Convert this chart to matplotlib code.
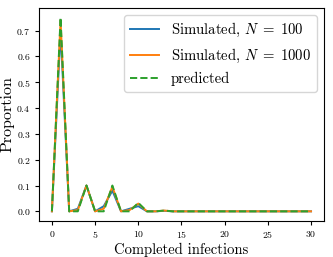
import numpy as np
import matplotlib
matplotlib.use('Agg')
from matplotlib import pyplot as plt

plt.rcParams['font.family'] = 'serif'
plt.rcParams['font.serif'] = ['cmr10']
plt.rcParams['mathtext.fontset'] = 'cm'
plt.rcParams['axes.formatter.use_mathtext'] = True

infections = np.arange(31)
sim_100 = [0.0, 0.70, 0.0, 0.01, 0.10, 0.0, 0.02, 0.08, 0.0, 0.01, 0.02, 0.0, 0.0, 0.002] + [0.0] * 17
sim_1000 = [0.0, 0.74, 0.0, 0.005, 0.10, 0.0, 0.01, 0.095, 0.0, 0.005, 0.03, 0.0, 0.0, 0.003] + [0.0] * 17
predicted = [0.0, 0.75, 0.0, 0.0, 0.10, 0.0, 0.0, 0.10, 0.0, 0.0, 0.033, 0.0, 0.0, 0.003] + [0.0] * 17

fig, ax = plt.subplots(figsize=(3.33, 2.57), dpi=100)
ax.plot(infections, sim_100, color='tab:blue', lw=1.4, label=r'Simulated, $N\;=\;100$')
ax.plot(infections, sim_1000, color='tab:orange', lw=1.4, label=r'Simulated, $N\;=\;1000$')
ax.plot(infections, predicted, color='tab:green', lw=1.4, ls='--', label='predicted')

ax.set_xticks([0, 5, 10, 15, 20, 25, 30])
ax.set_yticks([0.0, 0.1, 0.2, 0.3, 0.4, 0.5, 0.6, 0.7])
ax.tick_params(labelsize=7, length=3, pad=3)
ax.set_xlabel('Completed infections', fontsize=10.5, labelpad=2)
ax.set_ylabel('Proportion', fontsize=11.5, labelpad=1)
ax.legend(loc='upper right', fontsize=10.6)

fig.subplots_adjust(left=0.117, right=0.973, top=0.969, bottom=0.14)
fig.savefig('out.png', dpi=100)
